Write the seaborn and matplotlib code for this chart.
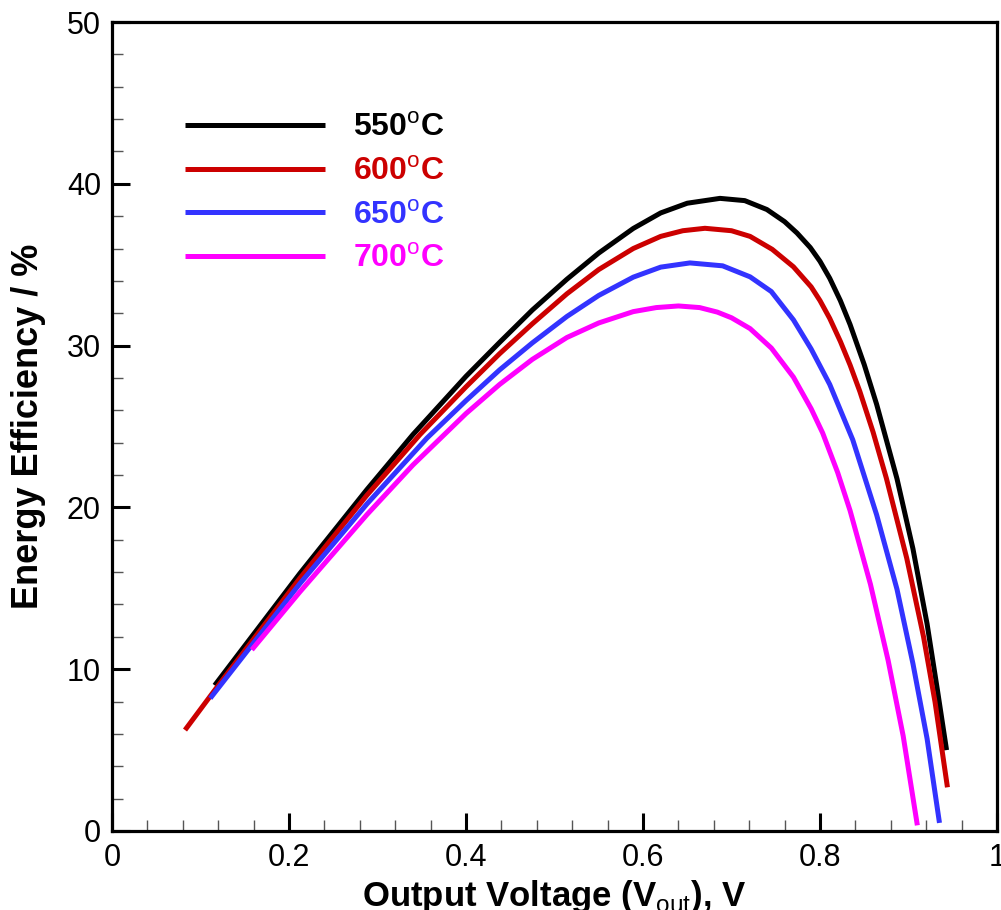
import matplotlib
matplotlib.use("Agg")
import matplotlib.pyplot as plt
from matplotlib.ticker import MultipleLocator
from matplotlib import font_manager
import seaborn as sns
import pandas as pd

# ---- data ----
v_550 = [0.116, 0.212, 0.288, 0.340, 0.400, 0.438, 0.475, 0.514, 0.550, 0.589, 0.620, 0.650,
         0.687, 0.715, 0.740, 0.760, 0.774, 0.789, 0.800, 0.811, 0.823, 0.834, 0.850, 0.864,
         0.887, 0.905, 0.921, 0.933, 0.943]
e_550 = [9.0, 15.9, 21.1, 24.5, 28.1, 30.2, 32.2, 34.1, 35.72, 37.24, 38.2, 38.8,
         39.1, 38.96, 38.41, 37.66, 36.96, 36.06, 35.21, 34.16, 32.78, 31.3, 28.82, 26.37,
         21.77, 17.45, 12.8, 8.6, 5.0]

v_600 = [0.0825, 0.116, 0.212, 0.288, 0.348, 0.400, 0.438, 0.475, 0.514, 0.550, 0.589, 0.620,
         0.645, 0.670, 0.700, 0.721, 0.746, 0.770, 0.790, 0.800, 0.811, 0.823, 0.834, 0.845,
         0.860, 0.875, 0.898, 0.917, 0.930, 0.944]
e_600 = [6.24, 8.7, 15.6, 20.75, 24.5, 27.45, 29.5, 31.35, 33.2, 34.7, 36.0, 36.75,
         37.1, 37.25, 37.1, 36.75, 35.95, 34.87, 33.63, 32.78, 31.68, 30.26, 28.8, 27.17,
         24.65, 21.8, 16.86, 12.0, 7.97, 2.7]

v_650 = [0.111, 0.212, 0.288, 0.356, 0.400, 0.438, 0.475, 0.514, 0.550, 0.589, 0.620, 0.653,
         0.690, 0.721, 0.745, 0.770, 0.790, 0.811, 0.837, 0.864, 0.887, 0.905, 0.921, 0.935]
e_650 = [8.2, 15.27, 20.21, 24.29, 26.6, 28.5, 30.17, 31.8, 33.1, 34.23, 34.85, 35.11,
         34.93, 34.25, 33.34, 31.59, 29.79, 27.6, 24.18, 19.54, 14.94, 10.35, 5.71, 0.5]

v_700 = [0.158, 0.212, 0.288, 0.340, 0.400, 0.438, 0.475, 0.514, 0.550, 0.589, 0.615, 0.640,
         0.664, 0.684, 0.700, 0.721, 0.745, 0.770, 0.790, 0.803, 0.820, 0.834, 0.857, 0.877,
         0.894, 0.910]
e_700 = [11.2, 14.76, 19.55, 22.62, 25.8, 27.6, 29.15, 30.5, 31.4, 32.1, 32.35, 32.45,
         32.35, 32.07, 31.72, 31.05, 29.85, 28.05, 26.1, 24.6, 22.15, 19.8, 15.25, 10.54,
         5.87, 0.35]

labels = ["550", "600", "650", "700"]
colors = ["#000000", "#CC0000", "#3333FF", "#FF00FF"]

x_ticks = [0, 0.2, 0.4, 0.6, 0.8, 1]
x_ticklabels = ["0", "0.2", "0.4", "0.6", "0.8", "1"]
y_ticks = [0, 10, 20, 30, 40, 50]

series = [(v_550, e_550), (v_600, e_600), (v_650, e_650), (v_700, e_700)]
names = [lab + r"$^{\rm o}$C" for lab in labels]
frames = []
for name, (v, e) in zip(names, series):
    frames.append(pd.DataFrame({"V": v, "E": e, "T": name}))
df = pd.concat(frames, ignore_index=True)

sns.set_style("white")
plt.rcParams["font.family"] = ["Liberation Sans", "DejaVu Sans"]
plt.rcParams["mathtext.fontset"] = "custom"
plt.rcParams["mathtext.rm"] = "Liberation Sans"
plt.rcParams["mathtext.bf"] = "Liberation Sans:bold"
for k in ["text.color", "axes.labelcolor", "xtick.color", "ytick.color", "axes.edgecolor"]:
    plt.rcParams[k] = "black"

avail = {f.name for f in font_manager.fontManager.ttflist}
if "Liberation Sans Narrow" in avail:
    xt_family, xt_size = "Liberation Sans Narrow", 25
else:
    xt_family, xt_size = "Liberation Sans", 22

fig = plt.figure(figsize=(10.01, 9.10), dpi=100)
ax = fig.add_axes([112 / 1001, 1 - 831 / 910, (997 - 112) / 1001, (831 - 22) / 910])

sns.lineplot(data=df, x="V", y="E", hue="T", hue_order=names,
             palette=dict(zip(names, colors)), sort=False, estimator=None,
             linewidth=3.6, ax=ax)
for ln in ax.get_lines():
    ln.set_solid_capstyle("butt")
    ln.set_solid_joinstyle("round")

ax.set_xlim(0, 1)
ax.set_ylim(0, 50)
ax.set_xticks(x_ticks)
ax.set_xticklabels(x_ticklabels, fontsize=xt_size, fontfamily=xt_family)
ax.set_yticks(y_ticks)
ax.set_yticklabels([str(t) for t in y_ticks], fontsize=22)
ax.xaxis.set_minor_locator(MultipleLocator(0.04))
ax.yaxis.set_minor_locator(MultipleLocator(2))
ax.tick_params(which="major", direction="in", length=13, width=2.2, color="black",
               top=False, right=False, bottom=True, left=True)
ax.tick_params(which="minor", direction="in", length=7.7, width=1.0, color="#555555",
               top=False, right=False, bottom=True, left=True)
ax.tick_params(axis="x", which="major", pad=9)
ax.tick_params(axis="y", which="major", pad=8)
for s in ax.spines.values():
    s.set_visible(True)
    s.set_linewidth(2.3)
    s.set_color("black")

ax.set_xlabel(r"Output Voltage (V$_{\rm out}$), V", fontsize=25, fontweight="bold")
ax.xaxis.set_label_coords(0.5, -0.058, transform=ax.transAxes)
ax.xaxis.label.set_va("top")
ax.set_ylabel("Energy Efficiency / %", fontsize=26, fontweight="bold")
ax.yaxis.set_label_coords(-0.0746, 0.5)

leg = ax.legend(frameon=False, loc="upper left", bbox_to_anchor=(0.0825, 0.8875),
                borderpad=0, borderaxespad=0,
                handlelength=4.375, handletextpad=0.875, labelspacing=0.43,
                prop={"size": 23, "weight": "bold"}, labelcolor="linecolor")
for line in leg.get_lines():
    line.set_linewidth(3.6)
    line.set_solid_capstyle("butt")

fig.savefig("out.png", dpi=100)
